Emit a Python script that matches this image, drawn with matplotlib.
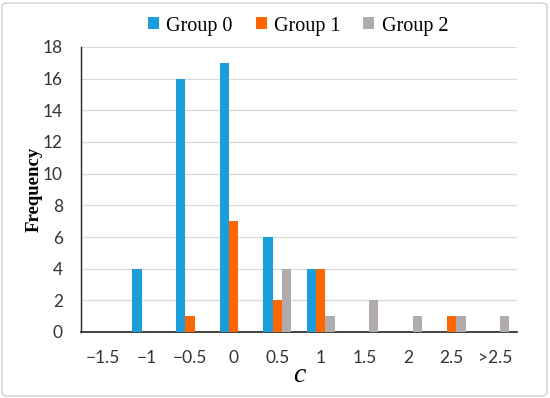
import matplotlib
matplotlib.use("Agg")
import matplotlib.pyplot as plt
from matplotlib.patches import FancyBboxPatch
import numpy as np

# data
categories = ["\u22121.5", "\u22121", "\u22120.5", "0", "0.5", "1", "1.5", "2", "2.5", ">2.5"]
group0 = [0, 4, 16, 17, 6, 4, 0, 0, 0, 0]
group1 = [0, 0, 1, 7, 2, 4, 0, 0, 1, 0]
group2 = [0, 0, 0, 0, 4, 1, 2, 1, 1, 1]
series_names = ["Group 0", "Group 1", "Group 2"]
colors = ["#1a9dd9", "#ff6600", "#b1acab"]

W, H = 550, 398
fig = plt.figure(figsize=(W / 100, H / 100), dpi=100)

# light rounded frame around the whole picture
frame = FancyBboxPatch((2 / W, 2 / H), 1 - 5 / W, 1 - 5 / H,
                       boxstyle="round,pad=0,rounding_size=0.01",
                       transform=fig.transFigure, fill=False,
                       edgecolor="#d0d0d0", linewidth=1.0)
fig.patches.append(frame)

ax = fig.add_axes([81 / W, (H - 332) / H, 436 / W, 285 / H])

x = np.arange(len(categories))
bw = 0.215
for i, (vals, name, col) in enumerate(zip([group0, group1, group2], series_names, colors)):
    ax.bar(x + (i - 1) * bw, vals, width=bw, color=col, label=name, zorder=3)

ax.set_xlim(-0.5, len(categories) - 0.5)
ax.set_ylim(0, 18)
ax.set_yticks(range(0, 19, 2))
ax.set_xticks(x)
ax.set_xticklabels(categories)

sans = ["Lato", "DejaVu Sans"]
serif = ["Liberation Serif", "DejaVu Serif"]
for lab in ax.get_xticklabels() + ax.get_yticklabels():
    lab.set_family(sans)
    lab.set_fontsize(12.5)
    lab.set_color("#333333")

ax.tick_params(axis="both", length=0)
ax.tick_params(axis="y", pad=13)
ax.tick_params(axis="x", pad=13)

ax.grid(axis="y", color="#d9d9d9", linewidth=0.9, zorder=0)
for s in ["top", "right"]:
    ax.spines[s].set_visible(False)
ax.spines["left"].set_color("#222222")
ax.spines["bottom"].set_color("#222222")
ax.spines["left"].set_linewidth(1.0)
ax.spines["bottom"].set_linewidth(1.2)

ax.set_ylabel("Frequency", family=serif, fontsize=13.5, fontweight="bold", labelpad=0)
ax.set_xlabel("c", family=serif, fontsize=20, fontstyle="italic", labelpad=-2)

leg = fig.legend(loc="center", bbox_to_anchor=(298 / W, 1 - 26 / H), ncol=3, frameon=False,
                 prop={"family": serif, "size": 14.5}, handlelength=0.55, handleheight=0.55,
                 handletextpad=0.35, columnspacing=1.15)

fig.savefig("out.png", dpi=100)
